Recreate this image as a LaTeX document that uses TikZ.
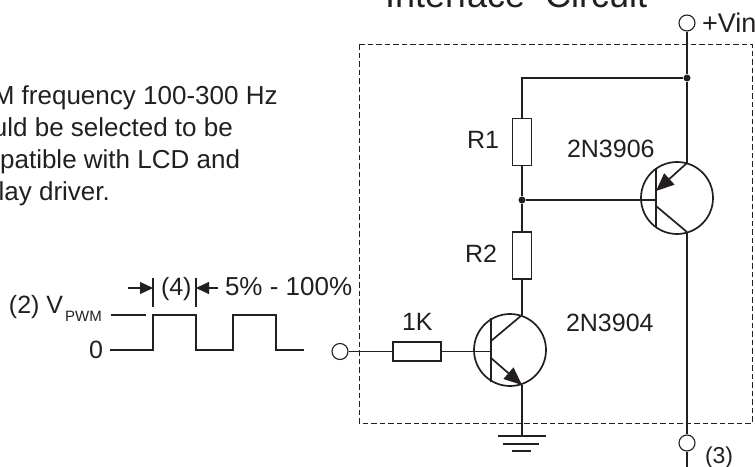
\documentclass[tikz,border=0pt]{standalone}
\usepackage{fontspec}
\setmainfont{Liberation Sans}
\usepackage{tikz}
\usetikzlibrary{arrows.meta}
\definecolor{inkc}{RGB}{35,31,32}
\newcommand{\TextS}[1]{\fontsize{#1}{#1}\selectfont}

\begin{document}
\begin{tikzpicture}[x=1pt,y=-1pt,color=inkc,text=inkc]
          \tikzstyle{line} = [draw,line width=1.1pt]
          \tikzstyle{lineB} = [draw,line width=1.7pt]
          \tikzstyle{lineT} = [draw,line width=1.7pt,-{Triangle[length=18pt,width=15pt]}]
          \tikzstyle{lineD} = [draw,line width=1pt,dash pattern=on 5.5pt off 3pt]
          \tikzstyle{lineA} = [draw,line width=1.1pt,-{Triangle[length=13pt,width=12pt]}]
          \tikzstyle{pin} = [draw,circle,line width=1.1pt,inner sep=0pt,minimum size=16pt,fill=white]
          \tikzstyle{dot} = [circle,fill=inkc,inner sep=0pt,minimum size=7pt]
          \tikzstyle{res} = [draw,line width=1.1pt,inner sep=0pt,fill=white]
          \tikzstyle{trans} = [draw,circle,line width=1.7pt,inner sep=0pt,minimum size=72pt]
          \tikzstyle{txt} = [anchor=base west,inner sep=0pt,outer sep=0pt,font=\TextS{25}]

          \useasboundingbox (0,0) rectangle (755,466);

          % box of the interface
          \coordinate(BoxNW) at (359,44);
          \coordinate(BoxSE) at (752,423);
          \draw[lineD] (BoxNW) rectangle (BoxSE);

          \node(Title)[txt,font=\TextS{36}] at (385,7) {Interface\ \ Circuit};
          \node(Note)[txt,align=left,anchor=north west,font=\fontsize{26}{32}\selectfont] at (-49,86)
            {PWM frequency 100-300 Hz\\should be selected to be\\compatible with LCD and\\display driver.};

          % pins and dots
          \node(VinPin)[pin] at (687,23) {};
          \node(VinText)[txt,font=\TextS{27}] at (702,32) {+Vin};
          \node(OutPin)[pin] at (687,443) {};
          \node(OutText)[txt,font=\TextS{23}] at (705,463) {(3)};
          \node(InPin)[pin] at (340,351.5) {};
          \node(TopDot)[dot] at (687,78) {};
          \node(MidDot)[dot] at (522,200) {};

          % resistors
          \node(ROne)[res,minimum width=19pt,minimum height=47pt] at (522,142) {};
          \node(RTwo)[res,minimum width=19pt,minimum height=47pt] at (522,255.5) {};
          \node(RBase)[res,minimum width=48pt,minimum height=19pt] at (417,351.5) {};
          \node(ROneText)[txt] at (467,148) {R1};
          \node(RTwoText)[txt] at (465,262) {R2};
          \node(RBaseText)[txt] at (402,330) {1K};

          % 2N3906
          \node(QOne)[trans] at (677,198) {};
          \node(QOneText)[txt] at (567,157) {2N3906};
          \coordinate(QOneE) at (687,163);
          \coordinate(QOneC) at (687,232);
          \coordinate(QOneBase) at (656,200);
          \draw[lineB] (656,168) -- (656,227);
          \draw[lineB] (QOneBase) -- (641,200);
          \draw[lineT] (QOneE) -- (656,191);
          \draw[lineB] (656,206) -- (QOneC);

          % 2N3904
          \node(QTwo)[trans] at (510,350) {};
          \node(QTwoText)[txt] at (566,331) {2N3904};
          \coordinate(QTwoC) at (522,315);
          \coordinate(QTwoE) at (522,385);
          \coordinate(QTwoBase) at (491,351.5);
          \draw[lineB] (491,318) -- (491,382);
          \draw[lineB] (QTwoBase) -- (474,351.5);
          \draw[lineB] (491,341) -- (QTwoC);
          \draw[lineT] (491,358) -- (QTwoE);

          % ground
          \coordinate(Gnd) at (522,436);
          \draw[lineB] ([xshift=-24pt]Gnd) -- ([xshift=24pt]Gnd);
          \draw[lineB] (503,444) -- (539,444);
          \draw[lineB] (512,451) -- (531,451);

          % wires
          \draw[line] (VinPin) -- (TopDot);
          \draw[line] (TopDot) -- (QOneE);
          \draw[line] (TopDot) -| (ROne.north);
          \draw[line] (ROne.south) -- (MidDot);
          \draw[line] (MidDot) -- (RTwo.north);
          \draw[line] (MidDot) -- (QOneBase);
          \draw[line] (RTwo.south) -- (QTwoC);
          \draw[line] (QOneC) -- (OutPin);
          \draw[line] (OutPin) -- (687,470);
          \draw[line] (QTwoE) -- (Gnd);
          \draw[line] (InPin) -- (RBase.west);
          \draw[line] (RBase.east) -- (QTwoBase);

          % pulse train
          \node(VPwm)[txt] at (9,313) {(2) V\kern2pt\raisebox{-8pt}{\TextS{15}PWM}};
          \node(Zero)[txt] at (89,358) {0};
          \node(Width)[txt] at (161,295) {(4)};
          \node(Duty)[txt,font=\TextS{26}] at (225,295) {5\% - 100\%};
          \coordinate(TickL) at (153,278);
          \coordinate(TickR) at (196,278);
          \draw[line] (111,315) -- (146,315);
          \draw[line] (110,350) -- (153,350) -- (153,315) -- (196,315) -- (196,350) -- (233,350) -- (233,315) -- (276,315) -- (276,350) -- (304,350);
          \draw[line] (TickL) -- (153,307);
          \draw[line] (TickR) -- (196,307);
          \draw[lineA] (128,288) -- (153,288);
          \draw[lineA] (218,288) -- (196,288);
\end{tikzpicture}
\end{document}
